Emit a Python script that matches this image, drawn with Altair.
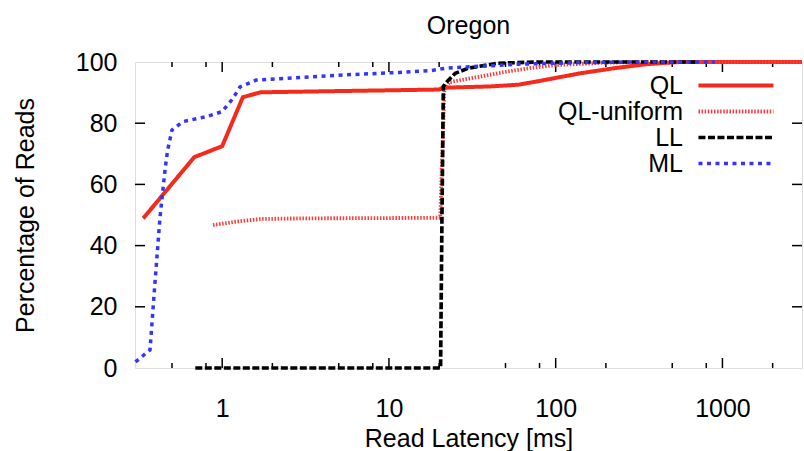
import altair as alt
import pandas as pd

FONT = "Liberation Sans"

series_names = ["QL", "QL-uniform", "LL", "ML"]
series_colors = ["#f42a1c", "#ff3a3a", "#000000", "#3434ff"]
series_dash = [[1, 0], [1.5, 1.6], [7, 2.5], [4, 4.5]]
series_width = [4, 3.5, 4, 4]

ql_x = [0.336, 0.68, 1.0, 1.33, 1.7, 5, 20, 21, 40, 60, 80, 100, 140, 220, 350, 550, 3000]
ql_y = [48.9, 68.9, 72.5, 88.5, 90.1, 90.5, 91.0, 91.6, 92.0, 92.6, 93.8, 94.8, 96.3, 97.9, 99.3, 100, 100]

qlu_x = [0.88, 1.2, 1.7, 3, 10, 20.3, 20.9, 21.5, 23, 35, 50, 70, 100, 200, 400, 3000]
qlu_y = [46.7, 47.8, 48.7, 48.9, 49.0, 49.1, 70, 91, 93.4, 95.2, 96.8, 98, 99, 99.8, 100, 100]

ll_x = [0.69, 20.4, 20.8, 21.2, 22.5, 25, 30, 45, 80, 700]
ll_y = [0, 0, 50, 92, 93.8, 96.3, 98, 99.6, 100, 100]

ml_x = [0.302, 0.369, 0.395, 0.424, 0.454, 0.47, 0.5, 0.58, 0.8, 1.0, 1.16, 1.28, 1.6, 3, 5, 11.6, 18, 22, 60, 140, 300, 900]
ml_y = [2, 5.9, 27.7, 49.4, 64.7, 71, 77.8, 80.5, 82.1, 83.8, 88.1, 91.9, 94.1, 95, 95.7, 96.6, 97.2, 98, 99.3, 99.8, 100, 100]

x_major = [1, 10, 100, 1000]
x_minor = [0.5, 0.8, 2, 5, 8, 20, 50, 80, 200, 500, 800, 2000]
y_ticks = [0, 20, 40, 60, 80, 100]
y_inner_ticks = [20, 40, 60, 80]

rows = []
for name, xs, ys in [("QL", ql_x, ql_y), ("QL-uniform", qlu_x, qlu_y),
                     ("LL", ll_x, ll_y), ("ML", ml_x, ml_y)]:
    for i, (a, b) in enumerate(zip(xs, ys)):
        rows.append({"series": name, "latency": a, "pct": b, "i": i})
df = pd.DataFrame(rows)

W, H = 667, 306

xscale = alt.Scale(type="log", domain=[0.3, 3000], nice=False)
yscale = alt.Scale(domain=[0, 100], nice=False)

color = alt.Color("series:N", scale=alt.Scale(domain=series_names, range=series_colors),
                  legend=alt.Legend(orient="none", legendX=523, legendY=11, title=None,
                                    labelFont=FONT, labelFontSize=25, labelColor="black",
                                    labelAlign="right", labelOffset=0, labelLimit=0,
                                    symbolType="M3.73,0H13.73", symbolSize=225, symbolOffset=0,
                                    symbolStrokeWidth=4, rowPadding=0, padding=0))
dash = alt.StrokeDash("series:N", scale=alt.Scale(domain=series_names, range=series_dash), legend=None)
swidth = alt.StrokeWidth("series:N", scale=alt.Scale(domain=series_names, range=series_width), legend=None)

layers = []
for k, name in enumerate(series_names):
    layers.append(
        alt.Chart(df).transform_filter(alt.datum.series == name).mark_line(clip=False, strokeCap="butt").encode(
            x=alt.X("latency:Q", scale=xscale,
                    axis=alt.Axis(values=x_major, format="d", tickSize=0, domain=False, grid=False,
                                  labelPadding=28, labelFont=FONT, labelFontSize=25, labelColor="black",
                                  title="Read Latency [ms]", titleFont=FONT, titleFontSize=25,
                                  titleFontWeight="normal", titleColor="black",
                                  titleY=78, titleBaseline="alphabetic", labelFlush=False)),
            y=alt.Y("pct:Q", scale=yscale,
                    axis=alt.Axis(values=y_ticks, tickSize=0, domain=False, grid=False,
                                  labelPadding=18, labelFont=FONT, labelFontSize=25, labelColor="black",
                                  title="Percentage of Reads", titleFont=FONT, titleFontSize=25,
                                  titleFontWeight="normal", titleColor="black",
                                  titleX=-110, titleY=153, titleBaseline="middle", titleAlign="center")),
            color=color,
            strokeDash=dash,
            strokeWidth=swidth,
            order="i:Q",
        )
    )

xmaj_df = pd.DataFrame({"v": x_major})
xmin_df = pd.DataFrame({"v": x_minor})
ytk_df = pd.DataFrame({"v": y_inner_ticks})

tick_style = dict(color="black", strokeWidth=1.5)
xm_b = alt.Chart(xmaj_df).mark_rule(**tick_style).encode(
    x=alt.X("v:Q", scale=xscale), y=alt.value(H), y2=alt.value(H - 10))
xm_t = alt.Chart(xmaj_df).mark_rule(**tick_style).encode(
    x=alt.X("v:Q", scale=xscale), y=alt.value(0), y2=alt.value(10))
xn_b = alt.Chart(xmin_df).mark_rule(**tick_style).encode(
    x=alt.X("v:Q", scale=xscale), y=alt.value(H), y2=alt.value(H - 5))
xn_t = alt.Chart(xmin_df).mark_rule(**tick_style).encode(
    x=alt.X("v:Q", scale=xscale), y=alt.value(0), y2=alt.value(5))
y_l = alt.Chart(ytk_df).mark_rule(**tick_style).encode(
    y=alt.Y("v:Q", scale=yscale), x=alt.value(0), x2=alt.value(10))
y_r = alt.Chart(ytk_df).mark_rule(**tick_style).encode(
    y=alt.Y("v:Q", scale=yscale), x=alt.value(W), x2=alt.value(W - 10))

chart = alt.layer(xm_b, xm_t, xn_b, xn_t, y_l, y_r, *layers).properties(
    width=W, height=H,
    title=alt.TitleParams("Oregon", font=FONT, fontSize=25, fontWeight="normal", color="black",
                          anchor="middle", baseline="alphabetic", offset=0, dy=9, frame="group"),
    padding={"left": 135, "top": 62, "right": 2, "bottom": 83},
    autosize=alt.AutoSizeParams(type="none"),
).configure_view(stroke="black", strokeWidth=1.5).configure(background="white")

chart.save("out.html", embed_options={"renderer": "svg", "actions": False})
